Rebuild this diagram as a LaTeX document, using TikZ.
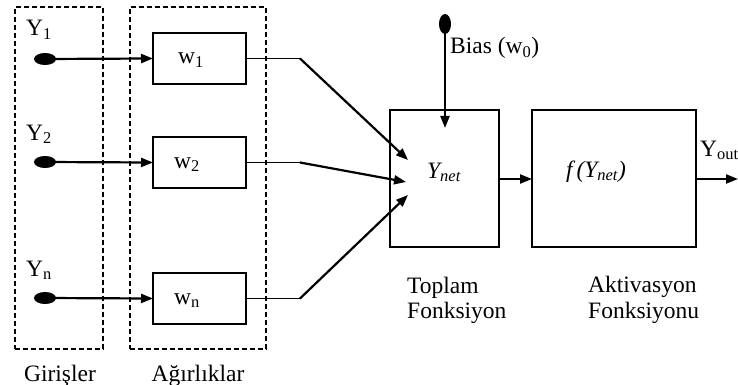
\documentclass[tikz,border=0pt]{standalone}
\usepackage{fontspec}
\setmainfont{Liberation Serif}
\usetikzlibrary{arrows.meta}
\begin{document}
\begin{tikzpicture}[x=1pt,y=-1pt,
  every node/.style={font=\fontsize{23.5}{25}\selectfont},
  dbox/.style={draw,dashed,dash pattern=on 5pt off 3pt,line width=2pt,inner sep=0pt,outer sep=0pt},
  wbox/.style={draw,line width=2pt,minimum width=93pt,minimum height=51pt,inner sep=0pt,outer sep=0pt},
  fbox/.style={draw,line width=1.3pt,minimum height=137pt,inner sep=0pt,outer sep=0pt},
  arr/.style={line width=2.2pt,-{Triangle[length=12pt,width=9pt]}},
  thin/.style={line width=1.2pt},
  lbl/.style={inner sep=0pt,anchor=base}
]
\useasboundingbox (0,0) rectangle (738,385);
% dashed groups
\node[dbox,minimum width=88pt,minimum height=342pt] (gir) at (59,178) {};
\node[dbox,minimum width=136pt,minimum height=342pt] (agr) at (198,178) {};
\node[lbl] (girL) at (60,381) {Girişler};
\node[lbl] (agrL) at (198,381) {Ağırlıklar};
% inputs
\fill (45,59) ellipse (11pt and 6pt) coordinate (d1);
\fill (45,162) ellipse (11pt and 6pt) coordinate (d2);
\fill (45,298) ellipse (11pt and 6pt) coordinate (dn);
\node[lbl,anchor=base west] (y1) at (26,36) {Y\textsubscript{1}};
\node[lbl,anchor=base west] (y2) at (26,140) {Y\textsubscript{2}};
\node[lbl,anchor=base west] (yn) at (26,276) {Y\textsubscript{n}};
% weights
\node[wbox] (w1) at (199.5,58.5) {};
\node[wbox] (w2) at (199.5,162.5) {};
\node[wbox] (wn) at (199.5,298.5) {};
\node[lbl] (w1L) at (191,64) {w\textsubscript{1}};
\node[lbl] (w2L) at (187,168) {w\textsubscript{2}};
\node[lbl] (wnL) at (187,304) {w\textsubscript{n}};
\draw[arr] (d1) -- (w1.west);
\draw[arr] (d2) -- (w2.west);
\draw[arr] (dn) -- (wn.west);
% summation
\node[fbox,minimum width=109pt] (sum) at (444.5,178.5) {};
\node[lbl] (ynet) at (444,178) {\textit{Y\textsubscript{net}}};
\coordinate (b1) at (300,58.5);
\coordinate (b2) at (300,162.5);
\coordinate (bn) at (300,298.5);
\coordinate (t1) at (408,160);
\coordinate (t2) at (406,182);
\coordinate (tn) at (408,195);
\draw[thin] (w1.east) -- (b1);
\draw[thin] (w2.east) -- (b2);
\draw[thin] (wn.east) -- (bn);
\draw[arr] (b1) -- (t1);
\draw[arr] (b2) -- (t2);
\draw[arr] (bn) -- (tn);
% bias
\fill (445,24) ellipse (6pt and 10pt) coordinate (bd);
\coordinate (bt) at (445,128);
\draw[arr] (bd) -- (bt);
\node[lbl,anchor=base west] (biasL) at (450,54) {Bias (w\textsubscript{0})};
% activation
\node[fbox,minimum width=164pt] (act) at (614,178.5) {};
\node[lbl] (fL) at (596,177) {\textit{f\,(Y\textsubscript{net})}};
\coordinate (out) at (738,179);
\draw[arr] (sum.east |- 0,179) -- (act.west |- 0,179);
\draw[arr] (act.east |- 0,179) -- (out);
\node[lbl,anchor=base west] (youtL) at (700,156) {Y\textsubscript{out}};
% labels
\node[anchor=base west,align=left,inner sep=0pt] (topL) at (407,293) {Toplam};
\node[anchor=base west,align=left,inner sep=0pt] (topL2) at (407,318) {Fonksiyon};
\node[anchor=base west,align=left,inner sep=0pt] (aktL) at (588,292) {Aktivasyon};
\node[anchor=base west,align=left,inner sep=0pt] (aktL2) at (588,318) {Fonksiyonu};
\end{tikzpicture}
\end{document}
